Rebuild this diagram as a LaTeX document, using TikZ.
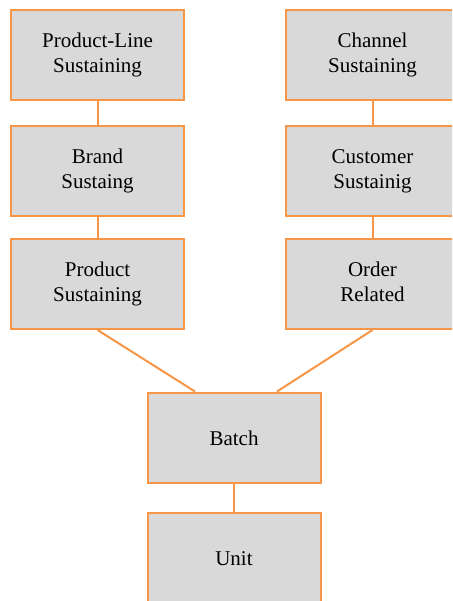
\documentclass[tikz,border=0pt]{standalone}
\usepackage{fontspec}
\setmainfont{Liberation Serif}
\usepackage{xcolor}
\usetikzlibrary{positioning}

\definecolor{boxgray}{HTML}{D9D9D9}
\definecolor{boxorange}{HTML}{F79646}
\newcommand{\boxstrut}{\rule[-4pt]{0pt}{24pt}}

\begin{document}
\begin{tikzpicture}[%
    x=1pt, y=1pt,
    node distance = 24pt,
    basic/.style={draw=boxorange,fill=boxgray,line width=2pt,inner sep=0pt,align=center,
        font=\fontsize{21}{25}\selectfont,
        execute at begin node=\boxstrut, execute at end node=\boxstrut},
    level/.style={basic,rectangle,minimum width=173pt,minimum height=90pt},
    link/.style={draw=boxorange,line width=2pt}
]
        \clip (0,0) rectangle (452,-601);
        \useasboundingbox (0,0) rectangle (452,-601);

        \node[level] at (97.5,-55) (pline) {Product-Line\\Sustaining};
        \node[below = 24pt of pline, level] (brand) {Brand\\Sustaing};
        \node[below = 21pt of brand, level] (product) {Product\\Sustaining};

        \node[level] at (372.5,-55) (channel) {Channel\\Sustaining};
        \node[below = 24pt of channel, level] (customer) {Customer\\Sustainig};
        \node[below = 21pt of customer, level] (order) {Order\\Related};

        \node[level] at (234,-437.5) (batch) {Batch};
        \node[below = 28pt of batch, level] (unit) {Unit};

        \path[link] (pline) -- (brand);
        \path[link] (brand) -- (product);
        \path[link] (channel) -- (customer);
        \path[link] (customer) -- (order);

        \path[link] (product.south) -- ([xshift=-39pt]batch.north);
        \path[link] (order.south) -- ([xshift=43pt]batch.north);
        \path[link] (batch) -- (unit);
\end{tikzpicture}
\end{document}
